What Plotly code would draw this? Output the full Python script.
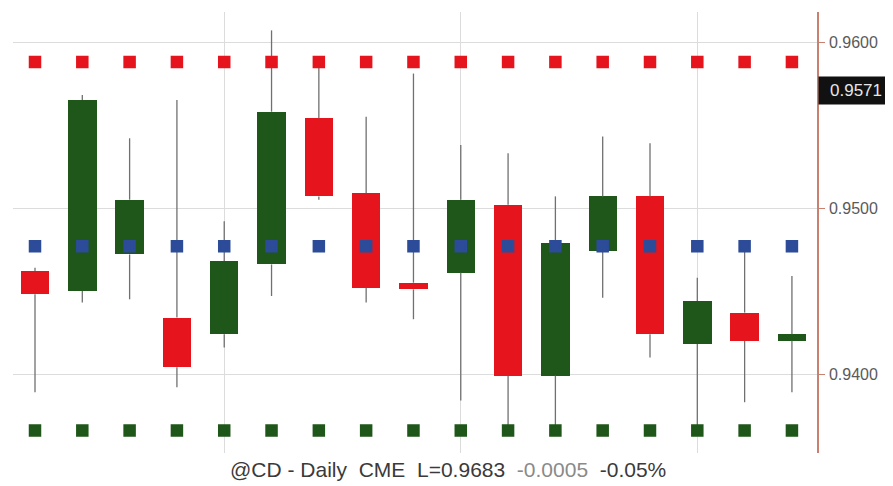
import plotly.graph_objects as go

# daily candles
days = list(range(1, 18))
opens = [0.9462, 0.9450, 0.9472, 0.9434, 0.9424, 0.9466, 0.9554, 0.9509, 0.9455, 0.9461,
         0.9502, 0.9399, 0.9474, 0.9507, 0.9418, 0.9437, 0.9420]
highs = [0.9464, 0.9568, 0.9542, 0.9565, 0.9492, 0.9607, 0.9586, 0.9555, 0.9581, 0.9538,
         0.9533, 0.9507, 0.9543, 0.9539, 0.9458, 0.9476, 0.9459]
lows = [0.9389, 0.9443, 0.9445, 0.9392, 0.9416, 0.9447, 0.9505, 0.9443, 0.9433, 0.9384,
        0.9368, 0.9368, 0.9446, 0.9410, 0.9368, 0.9383, 0.9389]
closes = [0.9448, 0.9565, 0.9505, 0.9404, 0.9468, 0.9558, 0.9507, 0.9452, 0.9451, 0.9505,
          0.9399, 0.9479, 0.9507, 0.9424, 0.9444, 0.9420, 0.9424]

# indicator dots
upper_dots = [0.9588] * 17
middle_dots = [0.9477] * 17
lower_dots = [0.9366] * 17

last_price = 0.9571
tick_vals = [0.9400, 0.9500, 0.9600]

RED = "#e5141d"
GREEN = "#1f571a"
BLUE = "#2c4b98"
FONT = "Liberation Sans, Arial, sans-serif"

fig = go.Figure()

# wicks: drawn above and below the body only (scatter sits above bars)
wx, wy = [], []
for d, o, h, l, c in zip(days, opens, highs, lows, closes):
    wx += [d, d, None, d, d, None]
    wy += [h, max(o, c), None, min(o, c), l, None]
fig.add_trace(go.Scatter(x=wx, y=wy, mode="lines", line=dict(color="#707070", width=1.3),
                         hoverinfo="skip", showlegend=False))

# bodies
body_base = [min(o, c) for o, c in zip(opens, closes)]
body_len = [max(abs(c - o), 0.00025) for o, c in zip(opens, closes)]
body_col = [GREEN if c >= o else RED for o, c in zip(opens, closes)]
fig.add_trace(go.Bar(x=days, y=body_len, base=body_base, width=0.6,
                     marker=dict(color=body_col, line=dict(width=0)), showlegend=False))

for vals, col in [(upper_dots, RED), (middle_dots, BLUE), (lower_dots, GREEN)]:
    fig.add_trace(go.Scatter(x=days, y=vals, mode="markers", showlegend=False,
                             marker=dict(symbol="square", size=10, color=col,
                                         line=dict(color=col, width=2.5))))

# page body has an 8px margin, so the figure is 8px smaller and margins shifted
fig.update_layout(
    width=885, height=478,
    margin=dict(l=5, r=76, t=4, b=33),
    paper_bgcolor="white", plot_bgcolor="white",
    font=dict(family=FONT, color="#555555"),
    bargap=0,
)
fig.update_xaxes(range=[0.535, 17.53], tickvals=[5, 10, 15], showticklabels=False,
                 showgrid=True, gridcolor="#dcdcdc", gridwidth=1, zeroline=False,
                 showline=False, ticks="")
fig.update_yaxes(side="right", range=[0.935241, 0.961807], tickvals=tick_vals,
                 tickformat=".4f", showgrid=True, gridcolor="#dcdcdc", gridwidth=1,
                 zeroline=False, showline=True, linecolor="#c9806e", linewidth=1.5,
                 ticks="outside", ticklen=6, tickcolor="#c9806e", ticklabelstandoff=1,
                 tickfont=dict(family=FONT, size=16, color="#5a5a5a"))

fig.add_annotation(x=1, xref="paper", xanchor="left", y=last_price, yref="y",
                   text=f"{last_price:.4f}", showarrow=False, bgcolor="#111111",
                   font=dict(family=FONT, size=17, color="#e6e6e6"),
                   borderpad=4, xshift=1, width=66)

fig.add_annotation(x=0.5, xref="paper", y=0, yref="paper", yanchor="top", yshift=-3,
                   xshift=33,
                   text="@CD - Daily&nbsp;&nbsp;CME&nbsp;&nbsp;L=0.9683&nbsp;&nbsp;"
                        "<span style='color:#8a8a8a'>-0.0005</span>&nbsp;&nbsp;-0.05%",
                   showarrow=False, font=dict(family=FONT, size=21, color="#3a3a3a"))

fig.write_html("out.html")
